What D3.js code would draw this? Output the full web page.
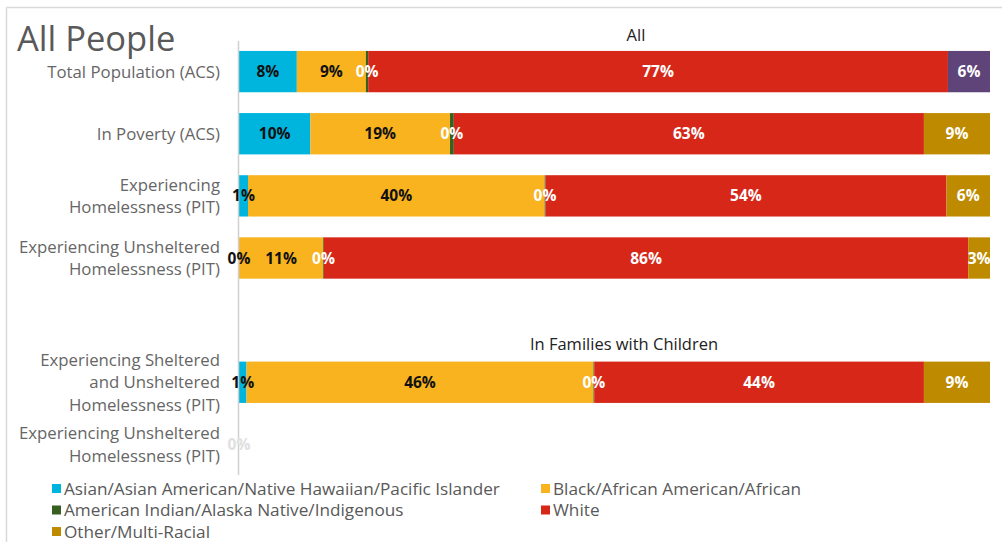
<!DOCTYPE html>
<html><head><meta charset="utf-8">
<script src="https://cdn.jsdelivr.net/npm/d3@7"></script>
<style>body{margin:0;background:#fff}svg{display:block}</style>
</head><body>
<script>
const categories = [
  "Total Population (ACS)",
  "In Poverty (ACS)",
  "Experiencing Homelessness (PIT)",
  "Experiencing Unsheltered Homelessness (PIT)",
  "",
  "Experiencing Sheltered and Unsheltered Homelessness (PIT)",
  "Experiencing Unsheltered Homelessness (PIT) "
];
const categoryLines = [
  ["Total Population (ACS)"],
  ["In Poverty (ACS)"],
  ["Experiencing", "Homelessness (PIT)"],
  ["Experiencing Unsheltered", "Homelessness (PIT)"],
  [],
  ["Experiencing Sheltered", "and Unsheltered", "Homelessness (PIT)"],
  ["Experiencing Unsheltered", "Homelessness (PIT)"]
];
const seriesNames = ["Asian/Asian American/Native Hawaiian/Pacific Islander","Black/African American/African","American Indian/Alaska Native/Indigenous","White","Other/Multi-Racial","Multi-Racial (ACS)"];
const asian    = [7.7, 9.5, 1.2, 0,    null, 1.0, 0];
const black    = [9.2, 18.6, 39.5, 11.2, null, 46.2, 0];
const aian     = [0.3, 0.5, 0.1, 0.1,  null, 0.1, 0];
const white    = [77.2, 62.6, 53.4, 85.8, null, 43.9, 0];
const other    = [0,   8.8, 5.8, 2.9,  null, 8.8, 0];
const multiACS = [5.6, 0,   0,   0,    null, 0,   0];
const labelsAsian = ["8%","10%","1%","0%",null,"1%","0%"];
const labelsBlack = ["9%","19%","40%","11%",null,"46%",null];
const labelsAian  = ["0%","0%","0%","0%",null,"0%",null];
const labelsWhite = ["77%","63%","54%","86%",null,"44%",null];
const labelsOther = [null,"9%","6%","3%",null,"9%",null];
const labelsMulti = ["6%",null,null,null,null,null,null];
const groupTitles = ["All","In Families with Children"];

const colors = ["#00B5DD","#F8B31E","#375F1F","#D62719","#BE8B00","#5E4478"];
const labelColors = ["#111","#111","#fff","#fff","#fff","#fff"];
const seriesValues = [asian, black, aian, white, other, multiACS];
const seriesLabels = [labelsAsian, labelsBlack, labelsAian, labelsWhite, labelsOther, labelsMulti];

const W = 1002, H = 542;
const svg = d3.select("body").append("svg").attr("width", W).attr("height", H);

// frame
svg.append("line").attr("x1",6.5).attr("x2",W).attr("y1",7.5).attr("y2",7.5).attr("stroke","#d9d9d9").attr("stroke-width",1.5);
svg.append("line").attr("x1",6.5).attr("x2",6.5).attr("y1",7.5).attr("y2",H).attr("stroke","#d9d9d9").attr("stroke-width",1.5);

svg.append("text").attr("x",17).attr("y",51).text("All People")
  .attr("font-family","'Open Sans', sans-serif").attr("font-size",34.5).attr("fill","#595959");

const x = d3.scaleLinear().domain([0,100]).range([239, 990]);
const y = d3.scaleBand().domain(categories).range([41, 475]).paddingInner(0.335).paddingOuter(0.16);

// group titles
svg.append("text").attr("x",636).attr("y",41).attr("text-anchor","middle").text(groupTitles[0])
  .attr("font-family","'Open Sans', sans-serif").attr("font-size",16.5).attr("fill","#222");
svg.append("text").attr("x",624).attr("y",350).attr("text-anchor","middle").text(groupTitles[1])
  .attr("font-family","'Open Sans', sans-serif").attr("font-size",16.5).attr("fill","#222");

// stack
const rows = categories.map((c,i)=>{
  let acc = 0;
  return seriesValues.map((s,k)=>{
    const v = s[i] || 0;
    const seg = {cat:c, i, k, x0:acc, x1:acc+v, label: seriesLabels[k][i]};
    acc += v;
    return seg;
  });
});
const segs = rows.flat();

svg.append("g").selectAll("rect").data(segs.filter(d=>d.x1>d.x0)).join("rect")
  .attr("x", d=>x(d.x0)).attr("width", d=>x(d.x1)-x(d.x0))
  .attr("y", d=>y(d.cat)).attr("height", y.bandwidth())
  .attr("fill", d=>colors[d.k]);

// axis line
svg.append("line").attr("x1",238.5).attr("x2",238.5).attr("y1",41).attr("y2",475).attr("stroke","#d0d0d0").attr("stroke-width",1.5);

// category labels
const lab = svg.append("g").attr("font-family","'Open Sans', sans-serif").attr("font-size",16.8).attr("fill","#666");
categoryLines.forEach((lines,i)=>{
  const cy = y(categories[i]) + y.bandwidth()/2;
  const lh = 22.5;
  lines.forEach((t,j)=>{
    lab.append("text").attr("x",220).attr("text-anchor","end")
      .attr("y", cy + (j-(lines.length-1)/2)*lh + 6).text(t);
  });
});

// data labels
const emptyRow = categories.map((c,i)=>d3.sum(seriesValues, s=>s[i]||0)===0);
svg.append("g").attr("font-family","'Open Sans', sans-serif").attr("font-weight","bold").attr("font-size",15.5)
  .selectAll("text").data(segs.filter(d=>d.label)).join("text")
  .attr("x", d=>x((d.x0+d.x1)/2)).attr("y", d=>y(d.cat)+y.bandwidth()/2+5.5)
  .attr("text-anchor","middle")
  .attr("fill", d=> emptyRow[d.i] ? "#e0e0e0" : labelColors[d.k])
  .text(d=>d.label);

// legend
const legendItems = seriesNames.slice(0,5);
const lg = svg.append("g").attr("font-family","'Open Sans', sans-serif").attr("font-size",17.2).attr("fill","#595959");
legendItems.forEach((n,k)=>{
  const col = k%2, row = Math.floor(k/2);
  const lx = col ? 541 : 52, ly = 489 + row*21.5;
  lg.append("rect").attr("x",lx).attr("y",ly-5).attr("width",9).attr("height",9).attr("fill",colors[k]);
  lg.append("text").attr("x",lx+12).attr("y",ly+5.5).text(n);
});
</script>
</body></html>
